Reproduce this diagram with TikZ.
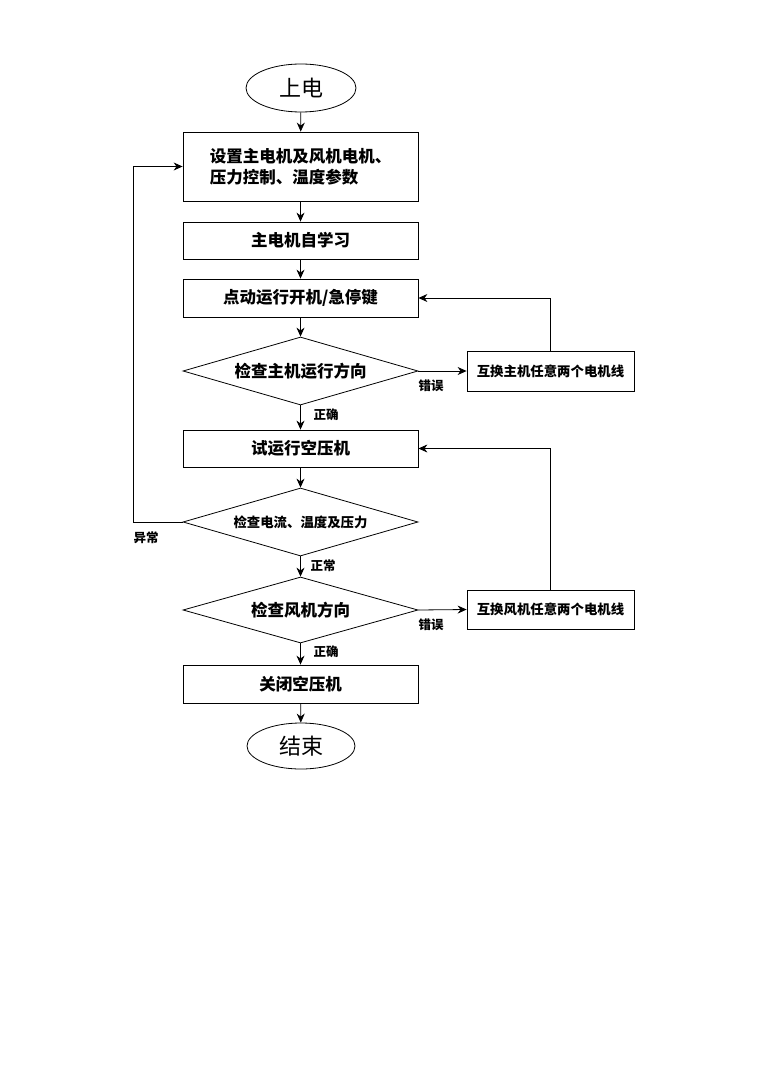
\documentclass[tikz,border=0pt]{standalone}
\usepackage{fontspec}
\setmainfont{Noto Sans CJK SC}
\newfontfamily\cjk{Noto Sans CJK SC}
\usetikzlibrary{shapes.geometric,arrows.meta}
\tikzset{
  box/.style={draw, line width=0.8pt, rectangle, inner sep=0pt, minimum width=235pt, font=\cjk\fontsize{16.5}{21}\selectfont\bfseries, align=center},
  sidebox/.style={draw, line width=0.8pt, rectangle, inner sep=0pt, minimum width=167pt, font=\cjk\fontsize{13.4}{16}\selectfont\bfseries},
  dia/.style={draw, line width=0.8pt, diamond, inner sep=0pt, shape aspect=3.46, minimum width=235pt},
  term/.style={draw, line width=0.8pt, ellipse, inner sep=0pt, font=\cjk\fontsize{22}{26}\selectfont},
  lbl/.style={font=\cjk\fontsize{12.5}{15}\selectfont\bfseries, inner sep=0pt},
  arr/.style={line width=0.8pt, -{Stealth[length=9pt,width=8pt]}},
  ln/.style={line width=0.8pt}
}
\begin{document}
\begin{tikzpicture}[x=1pt,y=-1pt]
\useasboundingbox[fill=white] (0,0) rectangle (768,1086);
\node[term, minimum width=110pt, minimum height=48pt] (start) at (301,88) {上电};
\node[box, minimum height=69pt, align=left] (b1) at (300.5,166.5) {设置主电机及风机电机、\\压力控制、温度参数};
\node[box, minimum height=37pt] (b2) at (300.5,240.5) {主电机自学习};
\node[box, minimum height=38pt] (b3) at (300.5,298) {点动运行开机/急停键};
\node[dia, minimum height=68pt, font=\cjk\fontsize{16.5}{20}\selectfont\bfseries] (d1) at (300.5,371) {检查主机运行方向};
\node[sidebox, minimum height=40pt] (s1) at (550.5,371) {互换主机任意两个电机线};
\node[box, minimum height=37pt] (b4) at (300.5,448.5) {试运行空压机};
\node[dia, minimum height=68pt, font=\cjk\fontsize{13.4}{16}\selectfont\bfseries] (d2) at (300.5,522) {检查电流、温度及压力};
\node[dia, minimum height=66pt, font=\cjk\fontsize{16.5}{20}\selectfont\bfseries] (d3) at (300.5,610) {检查风机方向};
\node[sidebox, minimum height=39pt] (s2) at (550.5,609.5) {互换风机任意两个电机线};
\node[box, minimum height=38pt] (b5) at (300.5,684) {关闭空压机};
\node[term, minimum width=108pt, minimum height=46pt] (end) at (301,746) {结束};
\coordinate (lp) at (133,522);

\draw[arr] (start) -- (b1);
\draw[arr] (b1) -- (b2);
\draw[arr] (b2) -- (b3);
\draw[arr] (b3) -- (d1);
\draw[arr] (d1) -- (b4);
\draw[arr] (d1.east) -- (s1.west);
\draw[arr] (s1.north) |- (b3.east);
\draw[arr] (b4) -- (d2);
\draw[arr] (d2) -- (d3);
\draw[arr] (d2.west) -- (lp) |- (b1.west);
\draw[arr] (d3.east) -- (s2.west);
\draw[arr] (s2.north) |- (b4.east);
\draw[arr] (d3) -- (b5);
\draw[arr] (b5) -- (end);

\node[lbl] (l1) at (431,386) {错误};
\node[lbl] (l2) at (326,415) {正确};
\node[lbl] (l3) at (146,538) {异常};
\node[lbl] (l4) at (323,566) {正常};
\node[lbl] (l5) at (431,625) {错误};
\node[lbl] (l6) at (326,652) {正确};
\end{tikzpicture}
\end{document}
